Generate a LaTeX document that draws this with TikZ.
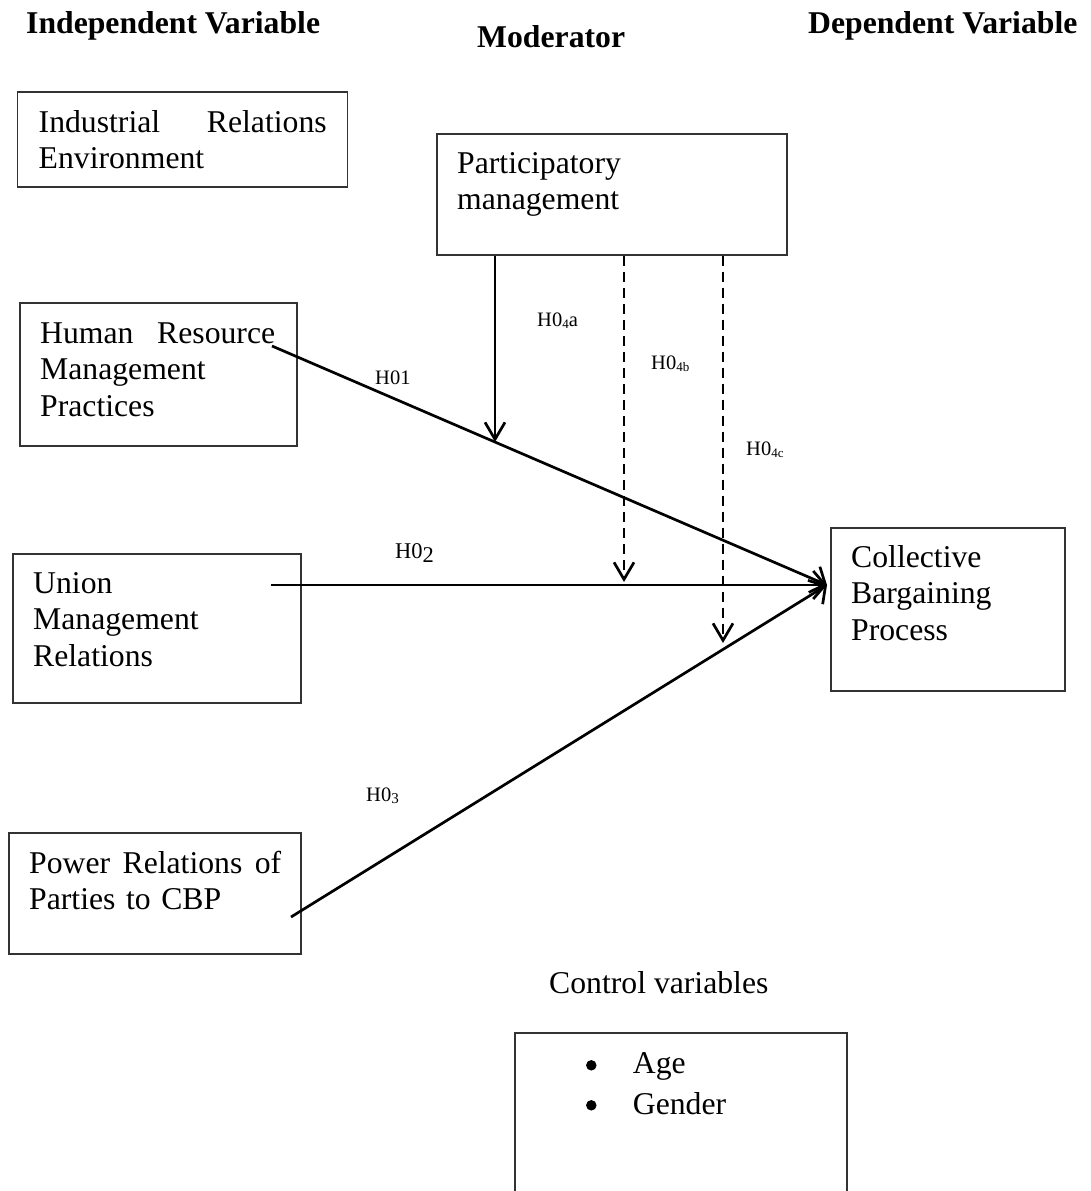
\documentclass[tikz,border=0pt]{standalone}
\usepackage{fontspec}
\setmainfont{Liberation Serif}
\usetikzlibrary{arrows.meta}

% small lowered index used in the hypothesis labels
\newcommand\hidx[1]{\raisebox{-2.5pt}{\fontsize{13}{13}\selectfont #1}}

\tikzset{
  x=1pt, y=-1pt,
  varbox/.style={draw=black!80, line width=1.8pt, inner sep=0pt},
  boxtext/.style={anchor=base west, inner sep=0pt, align=left,
    font=\fontsize{31.7}{36.5}\selectfont},
  head/.style={anchor=base west, inner sep=0pt,
    font=\bfseries\fontsize{31.7}{36}\selectfont},
  hyp/.style={anchor=base west, inner sep=0pt,
    font=\fontsize{20.5}{22}\selectfont},
  listdot/.style={circle, fill=black, inner sep=0pt, minimum size=10.5pt},
  effect/.style={line width=2.7pt, -{Straight Barb[length=12pt,width=28pt]}},
  modeffect/.style={line width=2.7pt, -{Straight Barb[length=17pt,width=20pt]}},
  moddashed/.style={modeffect, dash pattern=on 10pt off 6pt},
}

\begin{document}
\begin{tikzpicture}
\useasboundingbox (0,0) rectangle (1090,1191);
\clip (0,0) rectangle (1090,1191);

% column headings
\node[head] (hIV) at (26,33) {Independent Variable};
\node[head] (hMod) at (477,47) {Moderator};
\node[head] (hDV) at (808,33) {Dependent Variable};

% boxes
\node[varbox, minimum width=330pt, minimum height=95pt] (ire) at (182.5,139.5) {};
\node[varbox, minimum width=350pt, minimum height=121pt] (pm) at (612,194.5) {};
\node[varbox, minimum width=277pt, minimum height=143pt] (hrm) at (158.5,374.5) {};
\node[varbox, minimum width=288pt, minimum height=149pt] (umr) at (157,628.5) {};
\node[varbox, minimum width=292pt, minimum height=121pt] (prc) at (155,893.5) {};
\node[varbox, minimum width=234pt, minimum height=163pt] (cbp) at (948,609.5) {};
\node[varbox, minimum width=332pt, minimum height=200pt] (cv) at (681,1133) {};

% box texts
\node[boxtext, text width=288pt] (ireT) at (38.5,132) {Industrial\hfill Relations\\Environment};
\node[boxtext, text width=300pt] (pmT) at (457,173) {Participatory\\management};
\node[boxtext, text width=235pt] (hrmT) at (40,343) {Human\hfill Resource\\Management\\Practices};
\node[boxtext, text width=250pt] (umrT) at (33,593) {Union\\Management\\Relations};
\node[boxtext, text width=252pt] (prcT) at (29,873) {Power\hfill Relations\hfill of\\Parties to CBP};
\node[boxtext, text width=200pt] (cbpT) at (851,567) {Collective\\Bargaining\\Process};
\node[boxtext] (cvT) at (549,993) {Control variables};

% bulleted list of control variables
\node[listdot] (dot1) at (591.3,1065.3) {};
\node[listdot] (dot2) at (591.3,1105.3) {};
\node[boxtext, text width=200pt, font=\fontsize{31.7}{40.5}\selectfont] (cvList) at (632.7,1073.5)
  {Age\\Gender};

% connector end points
\coordinate (hrmOut) at (272,346);
\coordinate (umrOut) at (271,585);
\coordinate (prcOut) at (291,917);
\coordinate (cbpIn) at (827,585);
\coordinate (modA) at (495,442);
\coordinate (modB) at (624,582);
\coordinate (modC) at (723,643);

% direct effects
\draw[effect] (hrmOut) -- (cbpIn);
\draw[effect] (umrOut) -- (cbpIn);
\draw[effect] (prcOut) -- (cbpIn);

% moderating effects
\draw[modeffect] (modA |- pm.south) -- (modA);
\draw[moddashed] (modB |- pm.south) -- (modB);
\draw[moddashed] (modC |- pm.south) -- (modC);

% hypothesis labels
\node[hyp] (h1) at (375,384) {H01};
\node[hyp, font=\fontsize{22.5}{24}\selectfont] (h2) at (395,558) {H0\raisebox{-4pt}{2}};
\node[hyp] (h3) at (366,801) {H0\raisebox{-2.5pt}{\fontsize{15}{15}\selectfont 3}};
\node[hyp] (h4a) at (537,326) {H0\hidx{4}a};
\node[hyp] (h4b) at (651,369) {H0\hidx{4b}};
\node[hyp] (h4c) at (746,455) {H0\hidx{4c}};
\end{tikzpicture}
\end{document}
